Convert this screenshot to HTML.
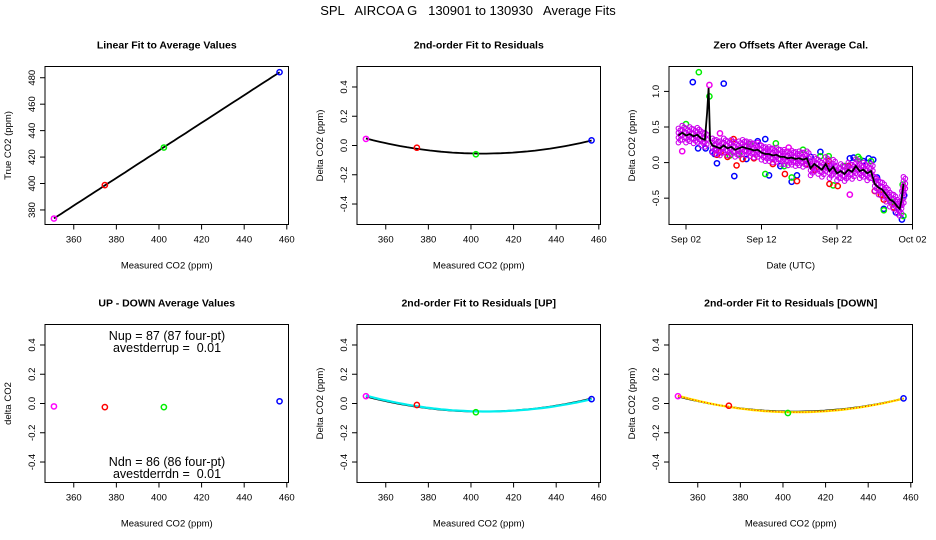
<!DOCTYPE html>
<html><head><meta charset="utf-8"><style>
body{margin:0;background:#fff}
svg{display:block;font-family:"Liberation Sans",sans-serif}
</style></head><body>
<svg id="c" width="936" height="540" viewBox="0 0 936 540">
<text x="468" y="15" text-anchor="middle" font-size="13" style="white-space:pre">SPL   AIRCOA G   130901 to 130930   Average Fits</text>
</svg>
<script>
// ---- data ----
const measCO2 = [350.7, 374.6, 402.3, 456.6];
const trueCO2 = [373.5, 398.8, 427.2, 484.2];
const residAll = [0.045, -0.015, -0.06, 0.035];
const upDownDelta = [-0.02, -0.025, -0.025, 0.015];
const residUp = [0.05, -0.01, -0.06, 0.03];
const residDown = [0.05, -0.015, -0.065, 0.035];
const pointColors = ["#ff00ff", "#ff0000", "#00ee00", "#0000ff"];
const xTicks = [360, 380, 400, 420, 440, 460];
const yTicksLin = [380, 400, 420, 440, 460, 480];
const yTicksRes = [-0.4, -0.2, 0.0, 0.2, 0.4];
const yTicksZero = [-0.5, 0.0, 0.5, 1.0];
const dateTicks = [1, 11, 21, 31];
const dateLabels = ["Sep 02", "Sep 12", "Sep 22", "Oct 02"];
// zero offsets time series (days since Sep 01 00:00)
const lineT = [0,0.5,1,1.5,2,2.5,3,3.5,3.8,4.0,4.2,4.5,5,5.5,6,6.5,7,7.5,8,8.5,9,9.5,10,10.5,11,11.5,12,12.5,13,13.5,14,14.5,15,15.5,16,16.5,17,17.5,18,18.5,19,19.5,20,20.5,21,21.5,22,22.5,23,23.5,24,24.5,25,25.5,26,26.5,27,27.5,28,28.5,29,29.3,29.6,29.8];
const lineV = [0.38,0.42,0.38,0.40,0.37,0.39,0.34,0.32,0.70,1.05,0.30,0.24,0.22,0.20,0.24,0.20,0.22,0.18,0.20,0.22,0.20,0.19,0.17,0.18,0.14,0.12,0.12,0.10,0.11,0.08,0.08,0.06,0.07,0.05,0.06,0.04,0.06,-0.08,-0.02,-0.06,-0.10,-0.02,-0.12,-0.06,-0.15,-0.12,-0.16,-0.10,-0.13,-0.05,-0.12,-0.10,-0.15,-0.12,-0.30,-0.35,-0.38,-0.45,-0.52,-0.55,-0.62,-0.65,-0.50,-0.30];
const bandOffsets = [-0.1, -0.065, -0.03, 0.005, 0.04, 0.075, 0.1];
const blueT = [1.9,6.0,7.4,5.1,11.5,15.0,18.8,25.8,26.3,27.2,29.6,29.9,22.7,3.6,2.6,12.0,15.7,9.0,20.0,24.5,4.5,4.8,10.5,13.5,17.5,23.2,25.2,28.8];
const blueV = [1.13,1.11,-0.19,-0.01,0.33,-0.27,0.15,0.04,-0.21,-0.65,-0.80,-0.46,0.06,0.20,0.20,-0.18,-0.18,0.05,-0.05,0.02,0.15,0.12,0.30,-0.05,0.08,0.07,0.06,-0.70];
const greenT = [2.7,4.1,1.0,12.9,11.5,15.0,18.8,19.9,23.8,27.2,29.7,29.8,20.5,8.0,14.0,25.5,6.8,9.5,16.5,22.0,24.0,28.2];
const greenV = [1.27,0.93,0.54,0.27,-0.16,-0.21,0.09,0.09,0.08,-0.67,-0.31,-0.75,-0.32,0.12,-0.05,0.02,0.10,0.26,0.18,-0.05,0.05,-0.55];
const redT = [7.3,7.7,14.1,15.7,19.9,20.0,21.1,27.2,5.1,28.5,6.5,10.0,17.0,26.8,5.6,8.5,12.5,18.0,22.5,26.0];
const redV = [0.33,-0.04,-0.16,-0.26,0.02,-0.30,-0.33,-0.52,0.11,-0.63,0.08,0.06,-0.02,-0.45,0.15,0.05,-0.02,-0.10,-0.05,-0.40];
const magT = [4.1,0.5,22.7,5.5,14.6,29.8];
const magV = [1.09,0.16,-0.45,0.41,0.21,-0.34];

const NS = "http://www.w3.org/2000/svg";
const svg = document.getElementById('c');
function el(tag, attrs, parent) {
  const e = document.createElementNS(NS, tag);
  for (const k in attrs) e.setAttribute(k, attrs[k]);
  (parent || svg).appendChild(e);
  return e;
}
function lin(d0, d1, p0, p1) { return v => p0 + (v - d0) / (d1 - d0) * (p1 - p0); }
function quadFit(xs, ys) {
  let S = [[0,0,0],[0,0,0],[0,0,0]], b = [0,0,0];
  for (let i = 0; i < xs.length; i++) {
    const x = xs[i] - 400, p = [1, x, x * x];
    for (let r = 0; r < 3; r++) { b[r] += p[r] * ys[i]; for (let c = 0; c < 3; c++) S[r][c] += p[r] * p[c]; }
  }
  for (let i = 0; i < 3; i++) {
    for (let j = i + 1; j < 3; j++) {
      const f = S[j][i] / S[i][i];
      for (let k = i; k < 3; k++) S[j][k] -= f * S[i][k];
      b[j] -= f * b[i];
    }
  }
  const c = [0,0,0];
  for (let i = 2; i >= 0; i--) { let s = b[i]; for (let k = i + 1; k < 3; k++) s -= S[i][k] * c[k]; c[i] = s / S[i][i]; }
  return x => c[0] + c[1] * (x - 400) + c[2] * (x - 400) * (x - 400);
}

function panel(opt) {
  const g = el('g', {});
  
  
  const L = opt.x0, R = opt.x0 + 243.5, T = opt.y0, B = opt.y0 + 158;
  const sx = lin(opt.xlim[0], opt.xlim[1], L, R);
  const sy = lin(opt.ylim[0], opt.ylim[1], B, T);
  const t = el('text', {x: (L + R) / 2, y: T - 18, 'text-anchor': 'middle', 'font-size': 10.5, 'font-weight': 'bold'}, g);
  t.textContent = opt.title;
  
  
  const box = el('rect', {x: L, y: T, width: R - L, height: B - T, fill: 'none', stroke: '#000', 'stroke-width': 1}, g);
  
  
  const xa = el('g', {}, g);
  
  
  opt.xt.forEach((v, i) => {
    const x = sx(v);
    el('line', {x1: x, x2: x, y1: B, y2: B + 5, stroke: '#000'}, xa);
    const tl = el('text', {x: x, y: B + 18, 'text-anchor': 'middle', 'font-size': 9.5}, xa);
    tl.textContent = opt.xl ? opt.xl[i] : v;
    
    
  });
  const xt = el('text', {x: (L + R) / 2, y: B + 44, 'text-anchor': 'middle', 'font-size': 9.5}, g);
  xt.textContent = opt.xtitle;
  
  
  const ya = el('g', {}, g);
  
  
  opt.yt.forEach(v => {
    const y = sy(v);
    el('line', {x1: L - 5, x2: L, y1: y, y2: y, stroke: '#000'}, ya);
    const tl = el('text', {x: L - 10, y: y, 'text-anchor': 'middle', 'font-size': 9.5, transform: `rotate(-90 ${L - 10} ${y})`}, ya);
    tl.textContent = opt.yfmt ? opt.yfmt(v) : v;
    
    
  });
  const yx = L - 34, yy = (T + B) / 2;
  const yt = el('text', {x: yx, y: yy, 'text-anchor': 'middle', 'font-size': 9.5, transform: `rotate(-90 ${yx} ${yy})`}, g);
  yt.textContent = opt.ytitle;
  
  
  return {g, sx, sy, L, R, T, B};
}
function pts(p, xs, ys, colors, name, r) {
  const g = el('g', {}, p.g);
  
  
  xs.forEach((x, i) => {
    const c = el('circle', {cx: p.sx(x), cy: p.sy(ys[i]), r: r || 2.6, fill: 'none', stroke: Array.isArray(colors) ? colors[i] : colors, 'stroke-width': 1.5}, g);
    
    
  });
}
function curve(p, f, stroke, w, dash, name) {
  let d = '';
  for (let i = 0; i <= 60; i++) {
    const x = measCO2[0] + (measCO2[3] - measCO2[0]) * i / 60;
    d += (i ? 'L' : 'M') + p.sx(x).toFixed(1) + ',' + p.sy(f(x)).toFixed(1);
  }
  const a = {d: d, fill: 'none', stroke: stroke, 'stroke-width': w};
  if (dash) a['stroke-dasharray'] = dash;
  const pe = el('path', a, p.g);
  
  
}
const XL = [346.5, 460.8];
const fmt1 = v => v.toFixed(1);
const OY = 258;

// Panel 1
let p = panel({name: 'linear-fit-panel', x0: 45, y0: 66.5, xlim: XL, ylim: [369, 488.5], xt: xTicks, yt: yTicksLin,
  title: 'Linear Fit to Average Values', xtitle: 'Measured CO2 (ppm)', ytitle: 'True CO2 (ppm)'});
{
  const n = measCO2.length;
  let mx = 0, my = 0; for (let i = 0; i < n; i++) { mx += measCO2[i] / n; my += trueCO2[i] / n; }
  let sxy = 0, sxx = 0; for (let i = 0; i < n; i++) { sxy += (measCO2[i] - mx) * (trueCO2[i] - my); sxx += (measCO2[i] - mx) ** 2; }
  const s = sxy / sxx, b = my - s * mx;
  curve(p, x => s * x + b, '#000', 1.8, null, 'linear-fit-line');
}
pts(p, measCO2, trueCO2, pointColors, 'calibration-points');

// Panel 2
p = panel({name: 'residual-fit-panel', x0: 357, y0: 66.5, xlim: XL, ylim: [-0.54, 0.54], xt: xTicks, yt: yTicksRes, yfmt: fmt1,
  title: '2nd-order Fit to Residuals', xtitle: 'Measured CO2 (ppm)', ytitle: 'Delta CO2 (ppm)'});
curve(p, quadFit(measCO2, residAll), '#000', 1.8, null, 'quadratic-fit-line');
pts(p, measCO2, residAll, pointColors, 'residual-points');

// Panel 3
p = panel({name: 'zero-offsets-panel', x0: 669, y0: 66.5, xlim: [-1.25, 31.0], ylim: [-0.87, 1.35], xt: dateTicks, xl: dateLabels, yt: yTicksZero, yfmt: fmt1,
  title: 'Zero Offsets After Average Cal.', xtitle: 'Date (UTC)', ytitle: 'Delta CO2 (ppm)'});
pts(p, blueT, blueV, '#0000ff', 'blue-offsets', 2.6);
pts(p, greenT, greenV, '#00ee00', 'green-offsets', 2.6);
pts(p, redT, redV, '#ff0000', 'red-offsets', 2.6);
{
  const g = el('g', {}, p.g);
  
  
  lineT.forEach((t, i) => {
    if (Math.abs(lineV[i] - (lineV[i - 1] ?? lineV[i])) > 0.3) return;
    bandOffsets.forEach((o, j) => {
      const c = el('circle', {cx: p.sx(t + (j % 2) * 0.25), cy: p.sy(lineV[i] + o), r: 2.3, fill: 'none', stroke: '#cc00ee', 'stroke-width': 1.1}, g);
      
      
    });
  });
}
pts(p, magT, magV, '#ee00ee', 'magenta-offsets', 2.6);
{
  let d = '';
  lineT.forEach((t, i) => { d += (i ? 'L' : 'M') + p.sx(t).toFixed(1) + ',' + p.sy(lineV[i]).toFixed(1); });
  const pe = el('path', {d: d, fill: 'none', stroke: '#000', 'stroke-width': 1.8}, p.g);
  
  
}

// Panel 4
p = panel({name: 'up-down-panel', x0: 45, y0: 66.5 + OY, xlim: XL, ylim: [-0.54, 0.54], xt: xTicks, yt: yTicksRes, yfmt: fmt1,
  title: 'UP - DOWN Average Values', xtitle: 'Measured CO2 (ppm)', ytitle: 'delta CO2'});
pts(p, measCO2, upDownDelta, pointColors, 'up-down-points');
[['Nup = 87 (87 four-pt)', 336], ['avestderrup =  0.01', 348], ['Ndn = 86 (86 four-pt)', 462], ['avestderrdn =  0.01', 474]].forEach(a => {
  const t = el('text', {x: 167, y: a[1] + 4, 'text-anchor': 'middle', 'font-size': 12.5, style: 'white-space:pre'}, p.g);
  t.textContent = a[0];
  
  
});

// Panel 5
p = panel({name: 'residual-up-panel', x0: 357, y0: 66.5 + OY, xlim: XL, ylim: [-0.54, 0.54], xt: xTicks, yt: yTicksRes, yfmt: fmt1,
  title: '2nd-order Fit to Residuals [UP]', xtitle: 'Measured CO2 (ppm)', ytitle: 'Delta CO2 (ppm)'});
curve(p, quadFit(measCO2, residAll), '#000', 1.8, null, 'overall-fit-line');
curve(p, quadFit(measCO2, residUp), '#00eeee', 2.2, null, 'up-fit-line');
pts(p, measCO2, residUp, pointColors, 'up-residual-points');

// Panel 6
p = panel({name: 'residual-down-panel', x0: 669, y0: 66.5 + OY, xlim: XL, ylim: [-0.54, 0.54], xt: xTicks, yt: yTicksRes, yfmt: fmt1,
  title: '2nd-order Fit to Residuals [DOWN]', xtitle: 'Measured CO2 (ppm)', ytitle: 'Delta CO2 (ppm)'});
curve(p, quadFit(measCO2, residAll), '#000', 1.8, null, 'overall-fit-line');
curve(p, quadFit(measCO2, residDown), '#ffee00', 2.2, null, 'down-fit-line');
curve(p, quadFit(measCO2, residDown), '#ff0000', 1, '1 2', 'down-fit-dotted-line');
pts(p, measCO2, residDown, pointColors, 'down-residual-points');
</script>
</body></html>
